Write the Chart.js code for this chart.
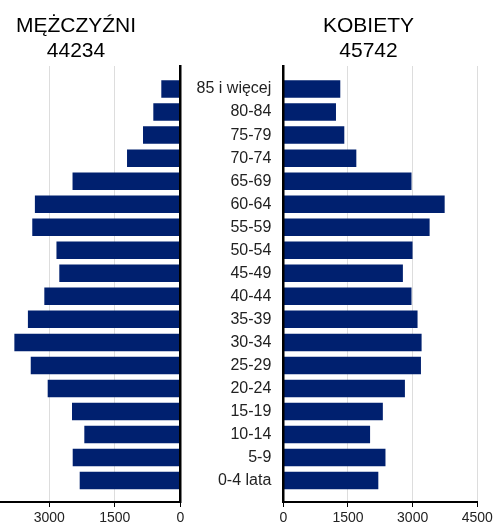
<!DOCTYPE html>
<html lang="pl">
<head>
<meta charset="utf-8">
<title>Piramida wieku</title>
<script src="https://cdn.jsdelivr.net/npm/chart.js@4.4.1/dist/chart.umd.min.js"></script>
<style>
  html, body { margin: 0; padding: 0; background: #fff; }
  body { position: relative; width: 495px; height: 525px; overflow: hidden; }
  .pane { position: absolute; top: 0; height: 525px; }
  #menPane { left: -40px; width: 232px; }
  #womenPane { left: 190px; width: 357px; }
</style>
</head>
<body>
<div class="pane" id="menPane"><canvas id="menChart"></canvas></div>
<div class="pane" id="womenPane"><canvas id="womenChart"></canvas></div>
<script>
// age groups, oldest first
var ageGroups = ['85 i więcej', '80-84', '75-79', '70-74', '65-69', '60-64', '55-59', '50-54', '45-49',
                 '40-44', '35-39', '30-34', '25-29', '20-24', '15-19', '10-14', '5-9', '0-4 lata'];
var menValues = [435, 618, 854, 1220, 2468, 3330, 3390, 2836, 2771,
                 3114, 3490, 3800, 3425, 3037, 2480, 2198, 2464, 2304];
var womenValues = [1322, 1222, 1415, 1694, 2974, 3743, 3394, 2998, 2774,
                   2974, 3114, 3208, 3193, 2821, 2309, 2013, 2370, 2204];
var axisMax = 4500;
var axisStep = 1500;

var barColor = '#00206f';
var gridColor = '#dddddd';
var textColor = '#222222';

Chart.defaults.font.family = "'Liberation Sans', Arial, sans-serif";
Chart.defaults.animation = false;

function sum(arr) {
    return arr.reduce(function (a, b) { return a + b; }, 0);
}

// bars sit on a linear index axis so the rows can keep some air above and below
function rows(values) {
    return values.map(function (v, i) { return { x: v, y: i }; });
}

function rowTicks(scale) {
    scale.ticks = ageGroups.map(function (_, i) { return { value: i }; });
}

function fixedWidth(w) {
    return function (scale) { scale.width = w; };
}

// empty strip beside the plot, only widens the title box
function gapAxis(position, w) {
    return {
        type: 'linear',
        position: position,
        afterFit: fixedWidth(w),
        ticks: { display: false },
        grid: { display: false },
        border: { display: false }
    };
}

function titleFor(name, values) {
    return {
        display: true,
        text: [name, String(sum(values))],
        color: '#000',
        font: { size: 21, weight: 'normal', lineHeight: 1.17 },
        padding: { top: 14, bottom: 2.86 }
    };
}

function valueAxis(reverse) {
    return {
        type: 'linear',
        reverse: reverse,
        min: 0,
        max: axisMax,
        afterFit: function (scale) { scale.height = 23; },
        ticks: {
            stepSize: axisStep,
            padding: 4,
            color: textColor,
            font: { size: 14, lineHeight: 1 },
            callback: function (v) { return String(v); }
        },
        grid: { color: gridColor, lineWidth: 1, tickColor: '#000', tickLength: 5, tickWidth: 1 },
        border: { color: '#000', width: 2 }
    };
}

function rowAxis(extra) {
    var axis = {
        type: 'linear',
        reverse: true,
        offset: false,
        min: -1,
        max: 17.93,
        afterBuildTicks: rowTicks,
        grid: { display: false, offset: false },
        border: { color: '#000', width: 2.5, z: 1 }
    };
    return Object.assign(axis, extra);
}

function dataset(values) {
    return {
        data: rows(values),
        backgroundColor: barColor,
        borderWidth: 0,
        barPercentage: 0.76,
        categoryPercentage: 1
    };
}

// men: bars grow to the left, zero line on the right, no row labels
new Chart(document.getElementById('menChart'), {
    type: 'bar',
    data: { datasets: [dataset(menValues)] },
    options: {
        indexAxis: 'y',
        responsive: true,
        maintainAspectRatio: false,
        layout: { padding: { left: 11.7, right: 11.7 } },
        plugins: {
            legend: { display: false },
            title: titleFor('MĘŻCZYŹNI', menValues)
        },
        scales: {
            x: valueAxis(true),
            y: rowAxis({
                position: 'right',
                afterFit: fixedWidth(0),
                ticks: { display: false }
            }),
            yGap: gapAxis('left', 12.1)
        }
    }
});

// women: bars grow to the right, age labels on the left
new Chart(document.getElementById('womenChart'), {
    type: 'bar',
    data: { datasets: [dataset(womenValues)] },
    options: {
        indexAxis: 'y',
        responsive: true,
        maintainAspectRatio: false,
        plugins: {
            legend: { display: false },
            title: titleFor('KOBIETY', womenValues)
        },
        scales: {
            x: valueAxis(false),
            y: rowAxis({
                position: 'left',
                afterFit: fixedWidth(93.3),
                ticks: {
                    autoSkip: false,
                    padding: 4,
                    color: textColor,
                    font: { size: 16 },
                    callback: function (v) { return ageGroups[v]; }
                }
            }),
            yGap: gapAxis('right', 69.7)
        }
    }
});
</script>
</body>
</html>
